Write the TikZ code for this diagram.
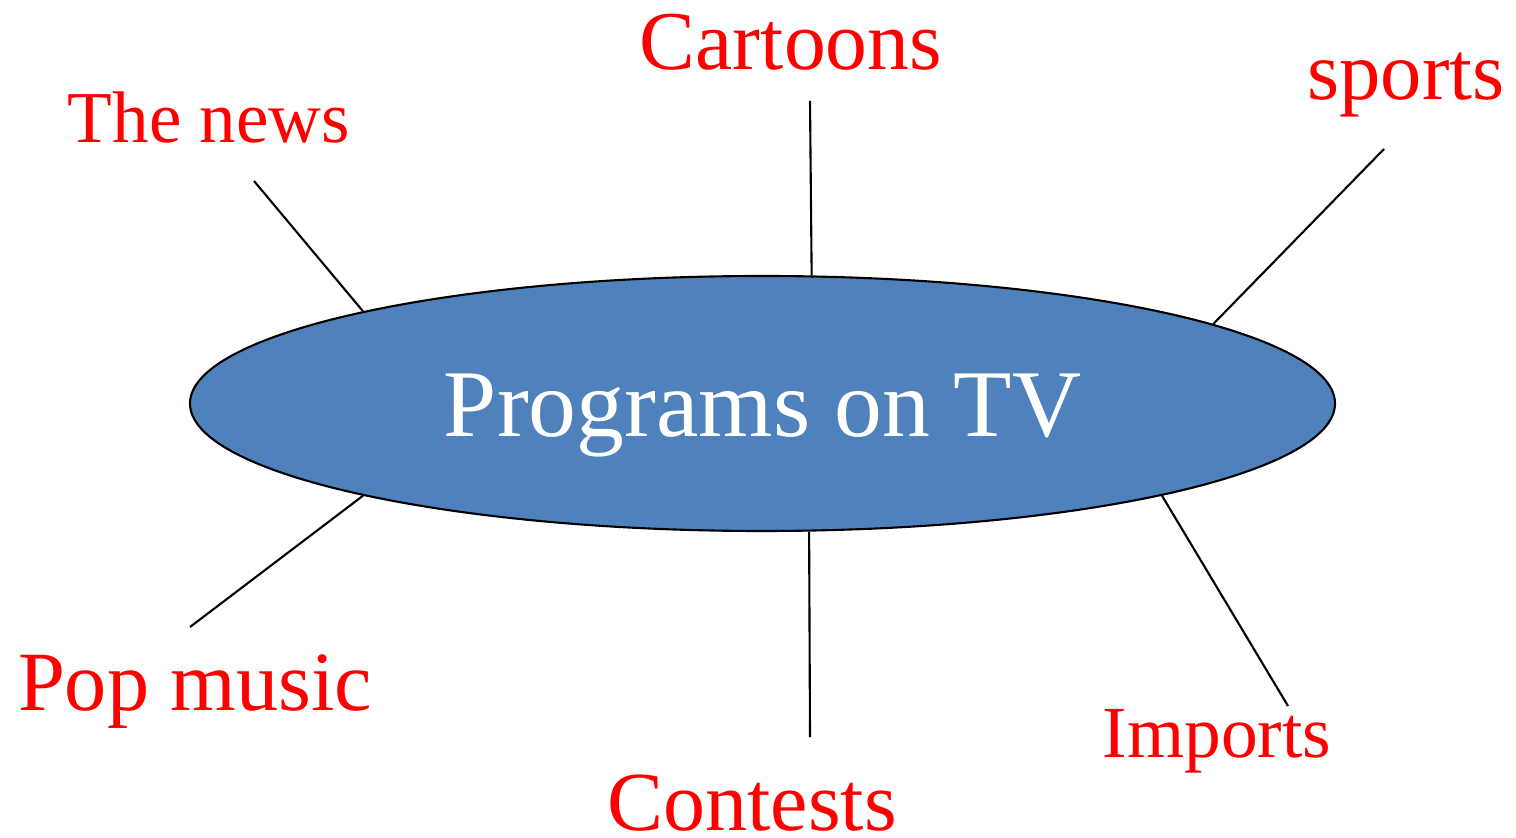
\documentclass[tikz,border=0pt]{standalone}
\usepackage{fontspec}
\setmainfont{Liberation Serif}
\usepackage{tikz}
\usetikzlibrary{shapes.geometric, positioning, calc}
\definecolor{tvblue}{RGB}{79, 129, 189}

\tikzset{
    topic/.style={text=red, anchor=base, inner sep=0pt},
    spoke/.style={black, line width=0.6pt}
}

\begin{document}
\begin{tikzpicture}
    \useasboundingbox (0,0) rectangle (15.16,8.37);

    % The central ellipse
    \node[ellipse, draw=black, line width=0.6pt, fill=tvblue, minimum width=11.45cm, minimum height=2.55cm, inner sep=0pt] (prog) at (7.625,4.335) {};
    \node[text=white, font=\fontsize{27.2}{30}\selectfont] (progtext) at ($(prog.center)+(0,-0.12)$) {Programs on TV};

    % Topics
    \node[topic, font=\fontsize{20.8}{24}\selectfont] (news) at (2.09,6.94) {The news};
    \node[topic, font=\fontsize{23.8}{28}\selectfont] (cartoons) at (7.91,7.67) {Cartoons};
    \node[topic, font=\fontsize{23.5}{28}\selectfont] (sports) at (14.06,7.37) {sports};
    \node[topic, font=\fontsize{24}{28}\selectfont] (pop) at (1.95,1.27) {Pop music};
    \node[topic, font=\fontsize{20.9}{24}\selectfont] (imports) at (12.17,0.80) {Imports};
    \node[topic, font=\fontsize{23.9}{28}\selectfont] (contests) at (7.52,0.07) {Contests};

    % Free ends of the spokes
    \coordinate (newsend) at (2.54,6.56);
    \coordinate (cartoonsend) at (8.10,7.36);
    \coordinate (sportsend) at (13.84,6.88);
    \coordinate (popend) at (1.90,2.10);
    \coordinate (contestsend) at (8.10,1.00);
    \coordinate (importsend) at (12.88,1.31);

    % Spokes
    \draw[spoke] (prog.167.9) -- (newsend);
    \draw[spoke] (prog.69.6) -- (cartoonsend);
    \draw[spoke] (prog.10.2) -- (sportsend);
    \draw[spoke] (prog.193.1) -- (popend);
    \draw[spoke] (prog.347.9) -- (importsend);
    \draw[spoke] (prog.290.4) -- (contestsend);
\end{tikzpicture}
\end{document}
